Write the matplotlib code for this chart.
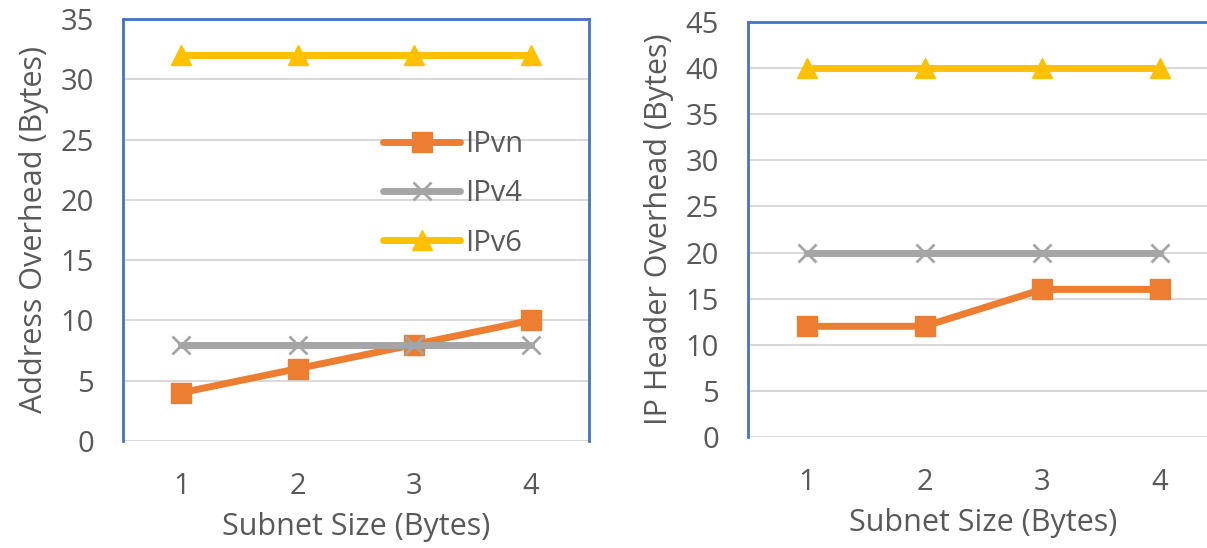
import matplotlib.pyplot as plt

plt.rcParams['font.family'] = ['Open Sans', 'DejaVu Sans']

subnet_sizes = [1, 2, 3, 4]

# left panel: address overhead (bytes)
addr_ipvn = [4, 6, 8, 10]
addr_ipv4 = [8, 8, 8, 8]
addr_ipv6 = [32, 32, 32, 32]

# right panel: IP header overhead (bytes)
hdr_ipvn = [12, 12, 16, 16]
hdr_ipv4 = [20, 20, 20, 20]
hdr_ipv6 = [40, 40, 40, 40]

series_names = ['IPvn', 'IPv4', 'IPv6']
text_col = '#595959'
grid_col = '#d9d9d9'
frame_col = '#4472c4'

fig = plt.figure(figsize=(12.07, 5.48), dpi=100)
ax1 = fig.add_axes([0.1019, 0.1953, 0.3861, 0.7700])
ax2 = fig.add_axes([0.6197, 0.2026, 0.3900, 0.7573])


def draw(ax, ipvn, ipv4, ipv6, ymax, ylabel):
    ax.plot(subnet_sizes, ipvn, color='#ed7d31', lw=5, marker='s', ms=14,
            label=series_names[0], solid_capstyle='round')
    ax.plot(subnet_sizes, ipv4, color='#a5a5a5', lw=5, marker='x', ms=13,
            mew=2, label=series_names[1], solid_capstyle='round')
    ax.plot(subnet_sizes, ipv6, color='#ffc000', lw=5, marker='^', ms=14,
            label=series_names[2], solid_capstyle='round')
    ax.set_xlim(0.5, 4.5)
    ax.set_ylim(0, ymax)
    ax.set_xticks(subnet_sizes)
    ax.set_yticks(range(0, ymax + 1, 5))
    ax.grid(axis='y', color=grid_col, lw=1.5)
    ax.set_axisbelow(True)
    ax.tick_params(axis='both', length=0, labelsize=21, colors=text_col)
    ax.tick_params(axis='x', pad=22)
    ax.tick_params(axis='y', pad=21)
    for s in ['left', 'top', 'right']:
        ax.spines[s].set_color(frame_col)
        ax.spines[s].set_linewidth(2)
    ax.spines['bottom'].set_visible(False)
    ax.set_xlabel('Subnet Size (Bytes)', fontsize=22, color=text_col, labelpad=8)
    ax.set_ylabel(ylabel, fontsize=22, color=text_col, labelpad=8)


draw(ax1, addr_ipvn, addr_ipv4, addr_ipv6, 35, 'Address Overhead (Bytes)')
draw(ax2, hdr_ipvn, hdr_ipv4, hdr_ipv6, 45, 'IP Header Overhead (Bytes)')

leg = ax1.legend(loc='upper left', bbox_to_anchor=(0.527, 0.772), frameon=False,
                 fontsize=21, handlelength=2.65, labelspacing=0.7,
                 handletextpad=0.15, borderpad=0)
for t in leg.get_texts():
    t.set_color(text_col)

fig.savefig('out.png', dpi=100)
